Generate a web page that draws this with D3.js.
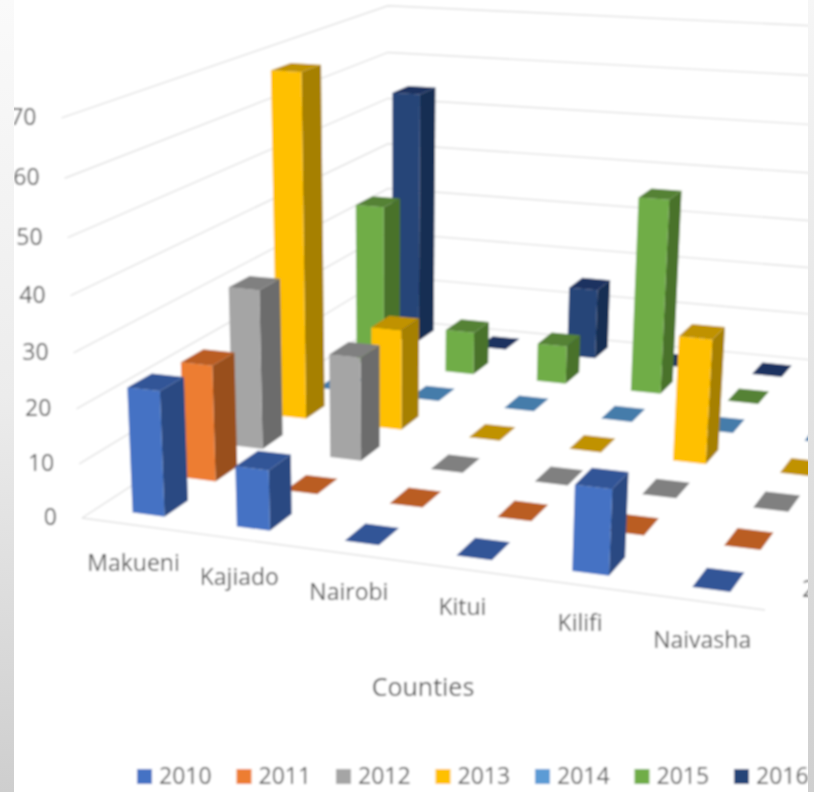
<!DOCTYPE html>
<html><head><meta charset="utf-8">
<script src="https://cdn.jsdelivr.net/npm/d3@7"></script>
<style>html,body{margin:0;padding:0;background:#fff}svg{display:block}text{font-family:"Open Sans",sans-serif;fill:#505050}</style>
</head><body><div id="chart"></div>
<script>
const counties=["Makueni","Kajiado","Nairobi","Kitui","Kilifi","Naivasha"];
const years=["2010","2011","2012","2013","2014","2015","2016"];
const s2010=[23,11,0,0,15,0];
const s2011=[22,0,0,0,0,0];
const s2012=[31,20,0,0,0,0];
const s2013=[68,20,0,0,24,0];
const s2014=[0,0,0,0,0,0];
const s2015=[34,9,8,40,0,0];
const s2016=[54,0,15,0,0,0];
const series=[s2010,s2011,s2012,s2013,s2014,s2015,s2016];
const yTicks=[0,10,20,30,40,50,60,70];
const front=["#4472C4","#ED7D31","#A5A5A5","#FFC000","#5B9BD5","#70AD47","#264478"];
const top_=["#335597","#BA5D22","#808080","#C09200","#457BAA","#548235","#1B3260"];
const side=["#2B4A82","#99501D","#6C6C6C","#A68000","#3B6690","#4A7229","#182D52"];
const W=814,H=792;
const svg=d3.select("#chart").append("svg").attr("width",W).attr("height",H);
const defs=svg.append("defs");
const lg=defs.append("linearGradient").attr("id","band").attr("x1",0).attr("y1",0).attr("x2",0).attr("y2",1);
lg.append("stop").attr("offset","0").attr("stop-color","#fafafa");
lg.append("stop").attr("offset","0.5").attr("stop-color","#ececec");
lg.append("stop").attr("offset","1").attr("stop-color","#cecece");
const lg2=defs.append("linearGradient").attr("id","band2").attr("x1",0).attr("y1",0).attr("x2",0).attr("y2",1);
lg2.append("stop").attr("offset","0").attr("stop-color","#f6f6f6");
lg2.append("stop").attr("offset","1").attr("stop-color","#cfcfcf");
defs.append("clipPath").attr("id","clip").append("rect").attr("x",14).attr("y",0).attr("width",794).attr("height",H);
defs.append("filter").attr("id","soft").attr("x","-5%").attr("y","-5%").attr("width","110%").attr("height","110%").append("feGaussianBlur").attr("stdDeviation",0.8);

// Projection: unit floor square to the picture quad, with a vertical vanishing point
const quad={a:[82,518],b:[765,610],d:[926,371],c:[388,319]};
const sx=quad.a[0]-quad.b[0]+quad.d[0]-quad.c[0],sy=quad.a[1]-quad.b[1]+quad.d[1]-quad.c[1];
const dx1=quad.b[0]-quad.d[0],dx2=quad.c[0]-quad.d[0],dy1=quad.b[1]-quad.d[1],dy2=quad.c[1]-quad.d[1];
const den=dx1*dy2-dx2*dy1;
const g=(sx*dy2-dx2*sy)/den,h=(dx1*sy-sx*dy1)/den;
const pa=quad.b[0]-quad.a[0]+g*quad.b[0],pb=quad.c[0]-quad.a[0]+h*quad.c[0],pc=quad.a[0];
const pd=quad.b[1]-quad.a[1]+g*quad.b[1],pe=quad.c[1]-quad.a[1]+h*quad.c[1],pf=quad.a[1];
const vp=[388,6500],K=0.0627;
const project=(u,v,w)=>{const t=w*K;const D=g*u+h*v+1-t;
  return [(pa*u+pb*v+pc-t*vp[0])/D,(pd*u+pe*v+pf-t*vp[1])/D];};
const uScale=d3.scaleLinear().domain([-0.5,5.5]).range([0,1]);
const vScale=d3.scaleLinear().domain([-0.5,6.5]).range([0,1]);
const wScale=d3.scaleLinear().domain([0,70]).range([0,1]);
const bu=0.155,bv=0.225;
const line=d3.line();

const root=svg.append("g").attr("clip-path","url(#clip)").append("g").attr("filter","url(#soft)");
root.append("rect").attr("width",W).attr("height",H).attr("fill","#fff");
const grid=root.append("g").attr("fill","none").attr("stroke","#e2e2e2").attr("stroke-width",1.4);
yTicks.forEach(t=>{const w=wScale(t);
  grid.append("path").attr("d",line([project(0,0,w),project(0,1,w),project(1,1,w)]));});
grid.append("path").attr("d",line([project(0,0,0),project(1,0,0)]));

const cells=[];
series.forEach((vals,j)=>vals.forEach((v,i)=>cells.push({i,j,v})));
cells.sort((p,q)=>q.j-p.j||p.i-q.i);
const bars=root.append("g");
cells.forEach(c=>{
  const u0=uScale(c.i-bu),u1=uScale(c.i+bu),v0=vScale(c.j-bv),v1=vScale(c.j+bv),w=wScale(c.v);
  const G=bars.append("g");
  if(c.v>0){
    G.append("path").attr("fill",side[c.j]).attr("d",line([project(u1,v0,0),project(u1,v1,0),project(u1,v1,w),project(u1,v0,w)])+"Z");
    G.append("path").attr("fill",front[c.j]).attr("d",line([project(u0,v0,0),project(u1,v0,0),project(u1,v0,w),project(u0,v0,w)])+"Z");
  }
  G.append("path").attr("fill",top_[c.j]).attr("d",line([project(u0,v0,w),project(u1,v0,w),project(u1,v1,w),project(u0,v1,w)])+"Z");
});

const tx=root.append("g").attr("font-size",23);
yTicks.forEach(t=>{const p=project(0,0,wScale(t));
  tx.append("text").attr("x",p[0]-25).attr("y",p[1]+7).attr("text-anchor","end").text(t);});
counties.forEach((c,i)=>{const p=project(uScale(i),0,0);
  tx.append("text").attr("x",p[0]).attr("y",p[1]+46).attr("text-anchor","middle").text(c);});
const sp=project(1,vScale(0),0);
tx.append("text").attr("x",sp[0]+22).attr("y",sp[1]+9).text(years[0]);
tx.append("text").attr("x",423).attr("y",696).attr("text-anchor","middle").attr("font-size",25).text("Counties");
const lx=d3.scalePoint().domain(years).range([137,734]);
const leg=tx.selectAll("g.l").data(years).join("g").attr("class","l").attr("transform",d=>`translate(${lx(d)},0)`);
leg.append("rect").attr("y",769).attr("width",15).attr("height",15).attr("fill",(d,i)=>front[i]);
leg.append("text").attr("x",22).attr("y",784).text(d=>d);

svg.append("rect").attr("x",0).attr("y",0).attr("width",14).attr("height",H).attr("fill","url(#band)");
svg.append("rect").attr("x",808).attr("y",0).attr("width",6).attr("height",H).attr("fill","url(#band2)");
</script></body></html>
